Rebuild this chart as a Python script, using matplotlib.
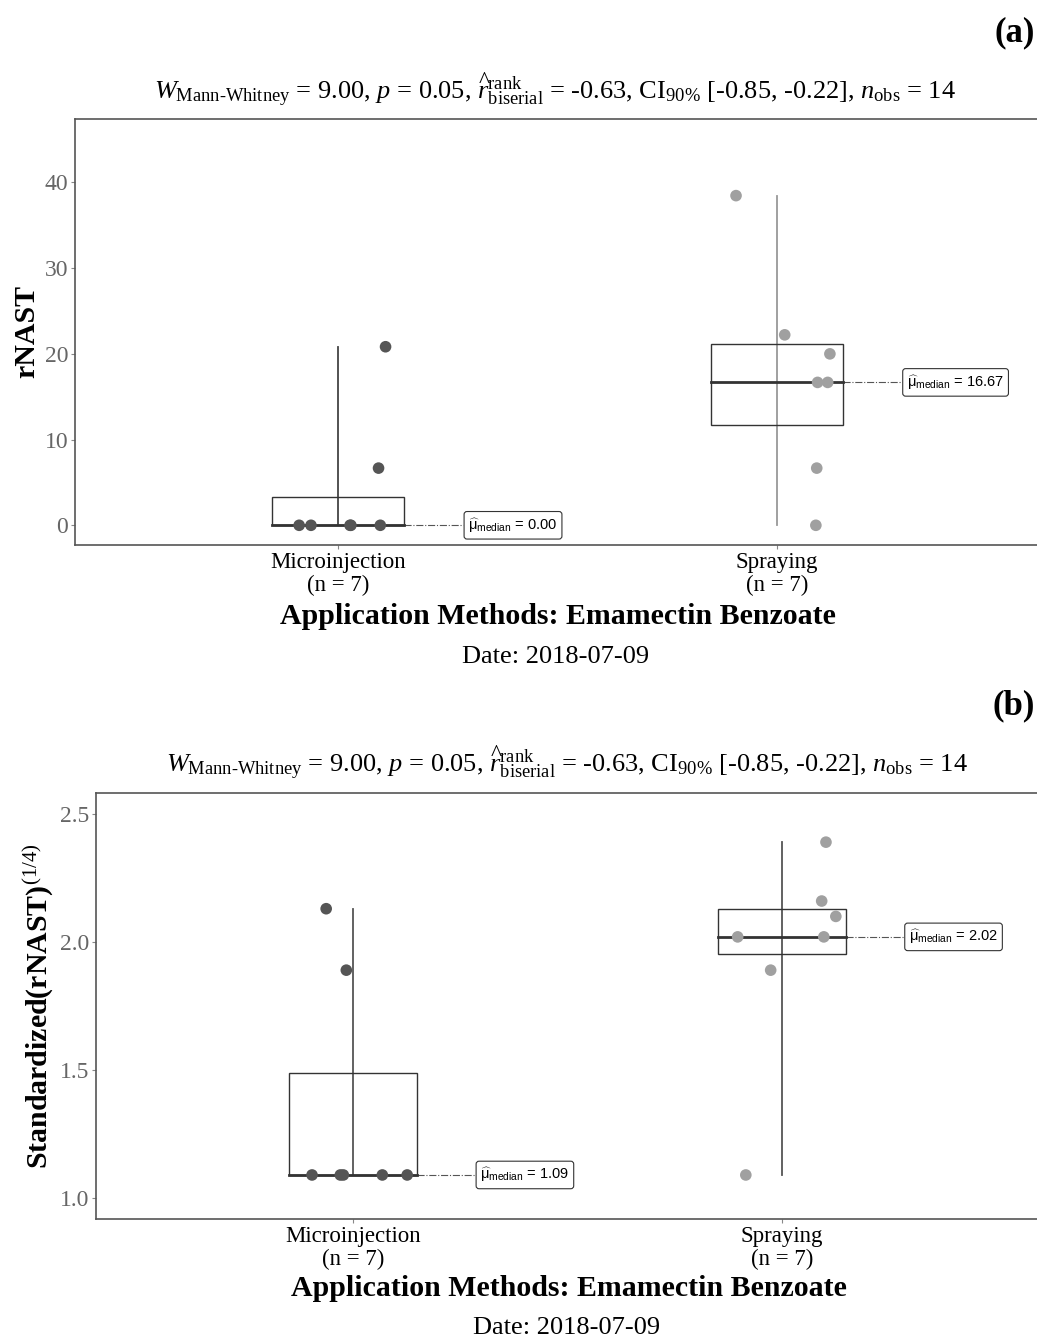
import matplotlib
matplotlib.use("Agg")
import matplotlib.pyplot as plt
from matplotlib.patches import Rectangle
import numpy as np

plt.rcParams['font.family'] = ['Liberation Serif', 'DejaVu Serif']
plt.rcParams['mathtext.fontset'] = 'custom'
plt.rcParams['mathtext.rm'] = 'Liberation Serif'
plt.rcParams['mathtext.it'] = 'Liberation Serif:italic'
plt.rcParams['mathtext.bf'] = 'Liberation Serif:bold'
plt.rcParams['mathtext.sf'] = 'Liberation Sans'

# data
groups = ['Microinjection', 'Spraying']
n_labels = ['(n = 7)', '(n = 7)']

rnast_micro = [0, 0, 0, 0, 0, 6.67, 20.83]
rnast_spray = [0, 6.67, 16.67, 16.67, 20.0, 22.22, 38.46]
std_micro = [1.09, 1.09, 1.09, 1.09, 1.09, 1.89, 2.13]
std_spray = [1.09, 1.89, 2.02, 2.02, 2.10, 2.16, 2.39]

# horizontal jitter of the points (category units)
jit_rnast_micro = [-0.089, -0.062, 0.027, 0.029, 0.096, 0.092, 0.108]
jit_rnast_spray = [0.089, 0.091, 0.093, 0.116, 0.121, 0.018, -0.093]
jit_std_micro = [-0.096, -0.030, -0.023, 0.068, 0.126, -0.016, -0.063]
jit_std_spray = [-0.084, -0.026, -0.103, 0.098, 0.126, 0.093, 0.103]

subtitle = (r"$W_{\mathrm{Mann}\text{-}\mathrm{Whitney}}$ = 9.00, $p$ = 0.05, "
            r"$\widehat{r}_{\mathrm{biserial}}^{\mathrm{rank}}$ = -0.63, "
            r"CI$_{90\%}$ [-0.85, -0.22], $n_{\mathrm{obs}}$ = 14")
xlab = 'Application Methods: Emamectin Benzoate'
date_txt = 'Date: 2018-07-09'

W, H = 1037, 1341
fig = plt.figure(figsize=(W / 100, H / 100), dpi=100)


def fx(px):
    return px / W


def fy(py):
    return 1 - py / H


def panel(ax, series, jitters, pt_colors, wh_colors, ylim, yticks, ylabel):
    for i, (vals, jit) in enumerate(zip(series, jitters)):
        pos = i + 1
        vals = np.array(vals)
        q1, med, q3 = np.percentile(vals, [25, 50, 75])
        ax.plot([pos, pos], [vals.min(), vals.max()], color=wh_colors[i],
                lw=1.3, zorder=1)
        ax.add_patch(Rectangle((pos - 0.15, q1), 0.3, q3 - q1, fill=False,
                               ec='#333333', lw=1.0, zorder=2))
        ax.plot([pos - 0.15, pos + 0.15], [med, med], color='#333333', lw=2.0,
                zorder=2)
        ax.scatter(pos + np.array(jit), vals, s=70, color=pt_colors[i],
                   edgecolors='none', zorder=3)
        ax.plot([pos + 0.15, pos + 0.285], [med, med], ls='-.', color='#555555',
                lw=0.8, zorder=1)
        ax.text(pos + 0.297, med,
                r"$\widehat{\mathsf{\mu}}_{\mathsf{median}}$ = %.2f" % med,
                ha='left', va='center', family='Liberation Sans', fontsize=10.5,
                bbox=dict(boxstyle='round,pad=0.3,rounding_size=0.2',
                          fc='white', ec='#333333', lw=0.8), zorder=4)
    ax.set_xlim(0.4, 2.6)
    ax.set_ylim(*ylim)
    ax.set_yticks(yticks)
    ax.set_xticks([1, 2])
    ax.set_xticklabels([g + '\n' + n for g, n in zip(groups, n_labels)],
                       fontsize=16.5, linespacing=1.1)
    ax.tick_params(axis='y', labelsize=17, labelcolor='#666666',
                   color='#888888', length=3, pad=2)
    ax.tick_params(axis='x', color='#888888', length=3, pad=2)
    for s in ax.spines.values():
        s.set_color('#555555')
        s.set_linewidth(1.2)
    ax.set_ylabel(ylabel, fontsize=21.5, fontweight='bold', labelpad=3)


# panel (a)
ax1 = fig.add_axes([fx(75), fy(545), fx(1040) - fx(75), fy(119) - fy(545)])
panel(ax1, [rnast_micro, rnast_spray], [jit_rnast_micro, jit_rnast_spray],
      ['#555555', '#a0a0a0'], ['#444444', '#999999'],
      (-2.3, 47.4), [0, 10, 20, 30, 40], 'rNAST')
fig.text(fx(1035), fy(33), '(a)', ha='right', va='center', fontsize=25,
         fontweight='bold')
fig.text(fx(555), fy(90), subtitle, ha='center', va='center', fontsize=19)
fig.text(fx(558), fy(616), xlab, ha='center', va='center', fontsize=21.5,
         fontweight='bold')
fig.text(fx(556), fy(657), date_txt, ha='center', va='center', fontsize=19)

# panel (b)
ax2 = fig.add_axes([fx(96), fy(1219), fx(1039) - fx(96), fy(793) - fy(1219)])
panel(ax2, [std_micro, std_spray], [jit_std_micro, jit_std_spray],
      ['#555555', '#a0a0a0'], ['#555555', '#555555'],
      (0.918, 2.582), [1.0, 1.5, 2.0, 2.5],
      r'Standardized(rNAST)$^{\mathrm{(1/4)}}$')
ax2.set_yticklabels(['1.0', '1.5', '2.0', '2.5'])
fig.text(fx(1035), fy(706), '(b)', ha='right', va='center', fontsize=25,
         fontweight='bold')
fig.text(fx(567), fy(763), subtitle, ha='center', va='center', fontsize=19)
fig.text(fx(569), fy(1289), xlab, ha='center', va='center', fontsize=21.5,
         fontweight='bold')
fig.text(fx(567), fy(1328), date_txt, ha='center', va='center', fontsize=19)

fig.savefig('out.png', dpi=100, facecolor='white')
